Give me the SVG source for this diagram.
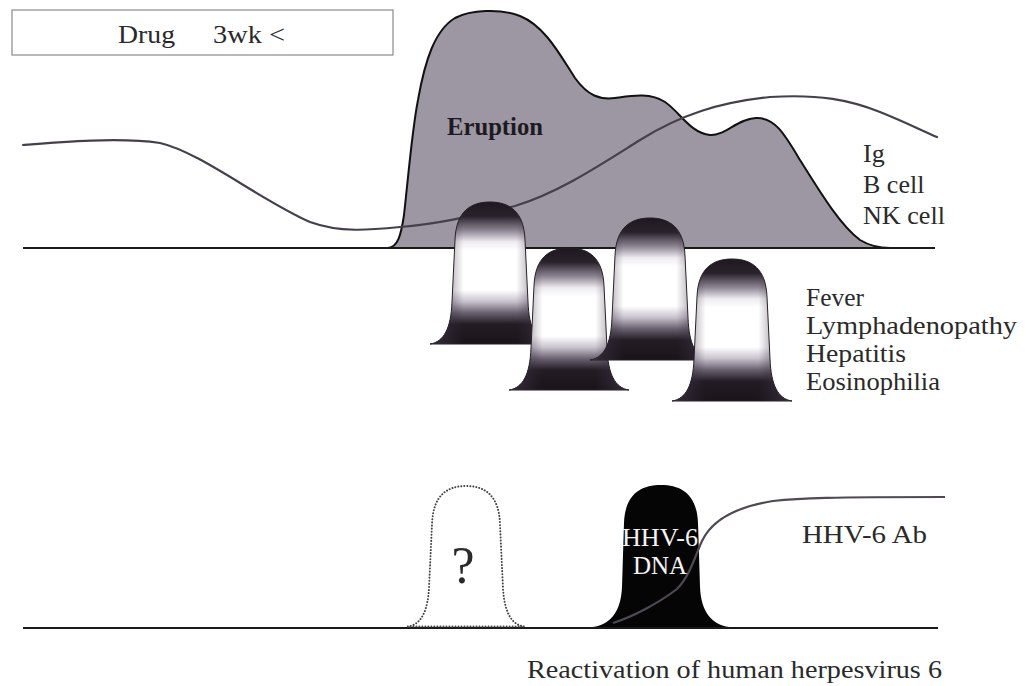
<svg xmlns="http://www.w3.org/2000/svg" width="1025" height="686" viewBox="0 0 1025 686">
<style>
text{font-family:"Liberation Serif","DejaVu Serif",serif;fill:#2a2a2a;font-size:26px}
.axis{stroke:#1a1a1a;stroke-width:2;fill:none}
.curve{stroke:#45404b;stroke-width:2.2;fill:none;stroke-linecap:round}
.bv{fill:url(#bv);stroke:#241d26;stroke-width:1}
.bh{fill:url(#bh);stroke:none}
.dotted{fill:none;stroke:#444;stroke-width:2;stroke-dasharray:0.1 3;stroke-linecap:round}
</style>
<defs>
<linearGradient id="bv" x1="0" y1="0" x2="0" y2="1">
<stop offset="0" stop-color="#1f1820"/>
<stop offset="0.1" stop-color="#2a222b"/>
<stop offset="0.2" stop-color="#8d8592"/>
<stop offset="0.28" stop-color="#eeebf0"/>
<stop offset="0.34" stop-color="#ffffff"/>
<stop offset="0.62" stop-color="#ffffff"/>
<stop offset="0.7" stop-color="#c9c3ce"/>
<stop offset="0.78" stop-color="#6a6170"/>
<stop offset="0.86" stop-color="#231c24"/>
<stop offset="1" stop-color="#1a141a"/>
</linearGradient>
<linearGradient id="bh" x1="0" y1="0" x2="1" y2="0">
<stop offset="0" stop-color="#3a3040" stop-opacity="0.9"/>
<stop offset="0.28" stop-color="#3a3040" stop-opacity="0"/>
<stop offset="0.72" stop-color="#3a3040" stop-opacity="0"/>
<stop offset="1" stop-color="#3a3040" stop-opacity="0.9"/>
</linearGradient>
<path id="bell" d="M -60,142 C -46,140 -39,126 -38,100 L -35,38 C -34,10 -20,0 0,0 C 20,0 34,10 35,38 L 38,100 C 39,126 46,140 60,142 Z"/>
</defs>
<rect width="1025" height="686" fill="#ffffff"/>

<g id="drug-box">
<rect x="12" y="10" width="381" height="45" fill="#fff" stroke="#8a8a8a" stroke-width="1.2"/>
<text x="118" y="43" textLength="57" lengthAdjust="spacingAndGlyphs">Drug</text>
<text x="213" y="43" textLength="72" lengthAdjust="spacingAndGlyphs">3wk &lt;</text>
</g>

<g id="eruption">
<path d="M 388,248 C 398,247 401,235 404,215 C 408,180 412,130 418,100 C 425,60 435,30 455,18 C 470,10 500,8 520,16 C 545,26 560,55 575,78 C 588,96 600,100 615,98 C 630,96 650,92 665,102 C 680,112 690,133 710,135 C 725,136 737,119 756,118 C 775,117 785,135 800,160 C 820,192 840,225 860,240 C 870,246 880,248 890,248 Z" fill="#9c97a2" stroke="#111" stroke-width="2"/>
<text x="447" y="135" textLength="96" lengthAdjust="spacingAndGlyphs" style="font-weight:bold;font-size:25px;fill:#1e1a22">Eruption</text>
</g>

<g id="connectors">
<line class="axis" x1="23" y1="248" x2="935" y2="248"/>
<path id="ig-curve" class="curve" d="M 23,145 C 60,142 120,137 160,143 C 200,152 260,200 310,222 C 340,233 370,230 400,227 C 440,224 480,214 515,206 C 560,192 600,165 640,140 C 680,115 720,102 770,97 C 820,94 850,100 880,112 C 905,122 925,132 937,137"/>
<line class="axis" x1="23" y1="628" x2="938" y2="628"/>
</g>

<g id="label-ig">
<text x="863" y="162">Ig</text>
<text x="863" y="193">B cell</text>
<text x="863" y="224" textLength="82" lengthAdjust="spacingAndGlyphs">NK cell</text>
</g>

<g id="bell1" transform="translate(490,202)"><use href="#bell" class="bv"/><use href="#bell" class="bh"/></g>
<g id="bell2" transform="translate(569,248)"><use href="#bell" class="bv"/><use href="#bell" class="bh"/></g>
<g id="bell3" transform="translate(650,218)"><use href="#bell" class="bv"/><use href="#bell" class="bh"/></g>
<g id="bell4" transform="translate(732,259)"><use href="#bell" class="bv"/><use href="#bell" class="bh"/></g>

<g id="label-symptoms">
<text x="806" y="306" textLength="58" lengthAdjust="spacingAndGlyphs">Fever</text>
<text x="806" y="334" textLength="211" lengthAdjust="spacingAndGlyphs">Lymphadenopathy</text>
<text x="806" y="362" textLength="100" lengthAdjust="spacingAndGlyphs">Hepatitis</text>
<text x="806" y="390" textLength="134" lengthAdjust="spacingAndGlyphs">Eosinophilia</text>
</g>

<g id="unknown-peak">
<use href="#bell" class="dotted" transform="translate(466,486) scale(0.97,0.99)"/>
<text x="463" y="583" text-anchor="middle" style="font-size:52px">?</text>
</g>

<g id="hhv6-dna">
<path d="M -68,142 C -52,140 -40,128 -39,102 L -37,38 C -36,10 -21,0 0,0 C 21,0 36,10 37,38 L 39,102 C 40,128 52,140 68,142 Z" transform="translate(661,485)" fill="#050505"/>
<path id="ab-curve" d="M 613,623 C 635,616 660,602 677,589 C 690,576 695,556 702,541 C 712,520 735,507 773,501 C 800,498 830,497 945,497" fill="none" stroke="#4e4954" stroke-width="2.2"/>
<text x="660" y="546" text-anchor="middle" textLength="76" lengthAdjust="spacingAndGlyphs" style="font-size:25px;fill:#f4f4f4">HHV-6</text>
<text x="660" y="574" text-anchor="middle" style="font-size:25px;fill:#f4f4f4">DNA</text>
</g>

<g id="label-ab">
<text x="802" y="543" textLength="125" lengthAdjust="spacingAndGlyphs">HHV-6 Ab</text>
</g>

<g id="caption">
<text x="527" y="678" textLength="415" lengthAdjust="spacingAndGlyphs">Reactivation of human herpesvirus 6</text>
</g>
</svg>
